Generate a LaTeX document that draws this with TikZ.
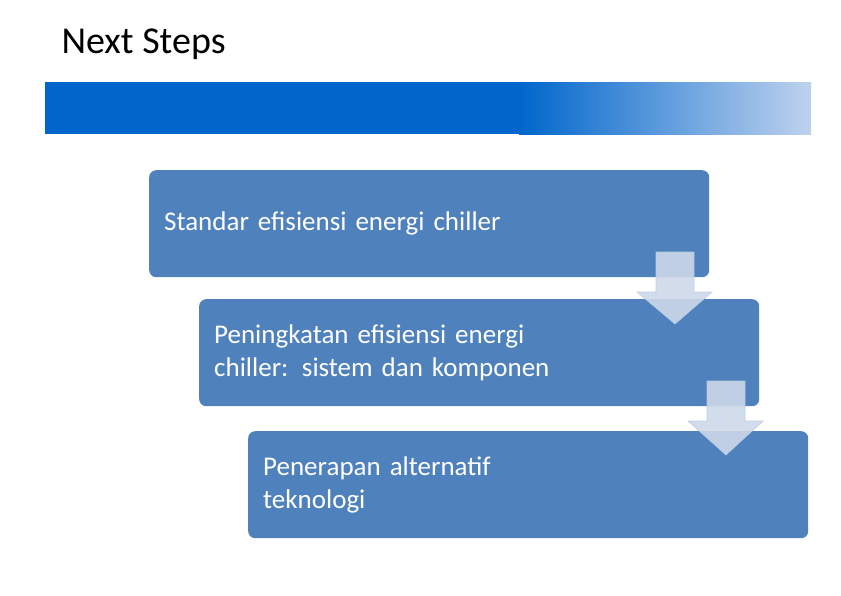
\documentclass[tikz,border=0pt]{standalone}
\usepackage{fontspec}
\setmainfont{Carlito}
\usetikzlibrary{positioning}
\definecolor{boxblue}{RGB}{79,129,189}
\definecolor{barblue}{RGB}{0,102,204}
\definecolor{barlight}{RGB}{190,210,238}
\definecolor{arrowfill}{RGB}{205,216,232}
\begin{document}
\begin{tikzpicture}[x=1pt,y=-1pt,
  stepbox/.style={fill=boxblue,rounded corners=7pt,minimum width=560pt,
    minimum height=107pt,anchor=north west,text width=530pt,align=left,
    text=white,font=\fontsize{27}{33}\selectfont,inner xsep=12pt},
  downarrow/.style={fill=arrowfill,draw=boxblue!40,line width=0.6pt,opacity=0.9}]
  \useasboundingbox (0,0) rectangle (841,595);
  \node[anchor=base west,font=\fontsize{38}{44}\selectfont] (title) at (58,53) {Next Steps};
  % banner
  \fill[barblue] (45,82) rectangle (520,134);
  \shade[left color=barblue,right color=barlight,shading angle=90] (519,82) rectangle (811,134);
  % steps
  \node[stepbox] (s1) at (149,170) {Standar efisiensi energi chiller};
  \node[stepbox] (s2) at (199,299) {Peningkatan efisiensi energi\\chiller: sistem dan komponen};
  \node[stepbox] (s3) at (248,431) {Penerapan alternatif\\teknologi};
  % arrows between steps
  \draw[downarrow] (656,252) -- (694,252) -- (694,292) -- (712,292) -- (675,324)
    -- (637,292) -- (656,292) -- cycle;
  \draw[downarrow] (707,381) -- (745,381) -- (745,421) -- (763,421) -- (726,455)
    -- (688,421) -- (707,421) -- cycle;
\end{tikzpicture}
\end{document}
